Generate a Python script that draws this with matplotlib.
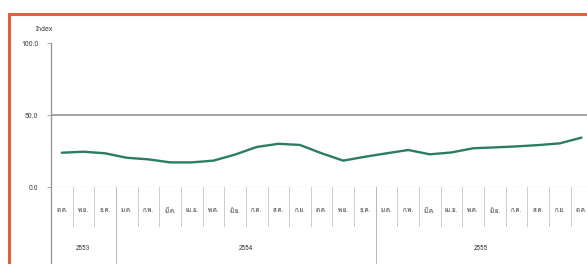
import matplotlib
matplotlib.use("Agg")
import matplotlib.pyplot as plt
from matplotlib import font_manager
from matplotlib.ft2font import FT2Font
from matplotlib.lines import Line2D

# ---------------- data ----------------
years = ["2553", "2554", "2555"]
months_2553 = ["ต.ค.", "พ.ย.", "ธ.ค."]
months_2554 = ["ม.ค.", "ก.พ.", "มี.ค.", "เม.ย.", "พ.ค.", "มิ.ย.",
               "ก.ค.", "ส.ค.", "ก.ย.", "ต.ค.", "พ.ย.", "ธ.ค."]
months_2555 = ["ม.ค.", "ก.พ.", "มี.ค.", "เม.ย.", "พ.ค.", "มิ.ย.",
               "ก.ค.", "ส.ค.", "ก.ย.", "ต.ค."]
index_values = [23.8, 24.5, 23.4, 20.3, 19.2, 17.1, 17.1, 18.3, 22.5,
                27.8, 30.0, 29.2, 23.4, 18.3, 21.0, 23.4, 25.7, 22.7,
                24.0, 26.9, 27.5, 28.2, 29.1, 30.3, 34.3]
y_ticks = [0, 50, 100]
y_tick_labels = ["0.0", "50.0", "100.0"]
ref_level = 50

# ---------------- font with Thai glyphs ----------------
thai_font = None
for fe in font_manager.fontManager.ttflist:
    try:
        if 0x0E01 in FT2Font(fe.fname).get_charmap():
            thai_font = fe.name
            break
    except Exception:
        pass
families = ([thai_font] if thai_font else []) + ["DejaVu Sans"]
plt.rcParams["font.family"] = families

W, H = 587, 264
fig = plt.figure(figsize=(W / 100, H / 100), dpi=100)
fig.patch.set_facecolor("white")

month_labels = months_2553 + months_2554 + months_2555
n = len(month_labels)
month_w = 21.65  # px per month
ax_left, ax_top, ax_bottom = 51, 43, 187
ax_width_px = W - ax_left
ax = fig.add_axes([ax_left / W, (H - ax_bottom) / H, ax_width_px / W,
                   (ax_bottom - ax_top) / H])
ax.set_xlim(0, ax_width_px / month_w)
ax.set_ylim(0, 100)
ax.set_facecolor("white")
for s in ["top", "right", "bottom", "left"]:
    ax.spines[s].set_visible(False)

xs = [i + 0.5 for i in range(n)]
ax.axhline(ref_level, color="#8c8c8c", lw=1.1, zorder=1)
ax.axhline(0, color="#a8a8a8", lw=0.8, zorder=1)
ax.plot(xs, index_values, color="#2b7d5f", lw=1.7, solid_joinstyle="round",
        solid_capstyle="round", zorder=3)

ax.set_yticks(y_ticks)
ax.set_yticklabels(y_tick_labels)
ax.tick_params(axis="y", length=3, width=0.6, color="#999999",
               labelsize=5, labelcolor="#444444", pad=6)
ax.set_xticks([])

ax.text(-0.012, 1.097, "Index", transform=ax.transAxes,
        fontsize=5, color="#444444", ha="center", va="center")

tr = ax.get_xaxis_transform()
# left axis line extending down through the category table
ax.add_line(Line2D([0, 0], [1.0, -0.6], transform=tr, color="#999999",
                   lw=1.0, clip_on=False))

# month labels + separators
for i, lab in enumerate(month_labels):
    ax.text(i + 0.5, -0.165, lab, transform=tr, fontsize=4.4,
            color="#3a3a3a", ha="center", va="center", clip_on=False)
    ax.add_line(Line2D([i + 1, i + 1], [0, -0.27], transform=tr,
                       color="#c4c4c4", lw=0.6, clip_on=False))

# year labels + separators
groups = [months_2553, months_2554, months_2555]
start = 0
xmax = ax.get_xlim()[1]
for yr, g in zip(years, groups):
    end = start + len(g)
    center = (start + min(end, xmax)) / 2
    ax.text(center, -0.425, yr, transform=tr, fontsize=4.6,
            color="#3a3a3a", ha="center", va="center", clip_on=False)
    ax.add_line(Line2D([end, end], [0, -0.6], transform=tr,
                       color="#b8b8b8", lw=0.7, clip_on=False))
    start = end

# orange frame (cropped on the right and bottom)
frame_color = "#d9623f"
fx, fy = 8.5 / W, (H - 13.5) / H
fig.add_artist(Line2D([fx, fx], [fy, -0.1], transform=fig.transFigure,
                      color=frame_color, lw=2.2))
fig.add_artist(Line2D([fx, 1.1], [fy, fy], transform=fig.transFigure,
                      color=frame_color, lw=2.2))

fig.savefig("out.png", dpi=100)
